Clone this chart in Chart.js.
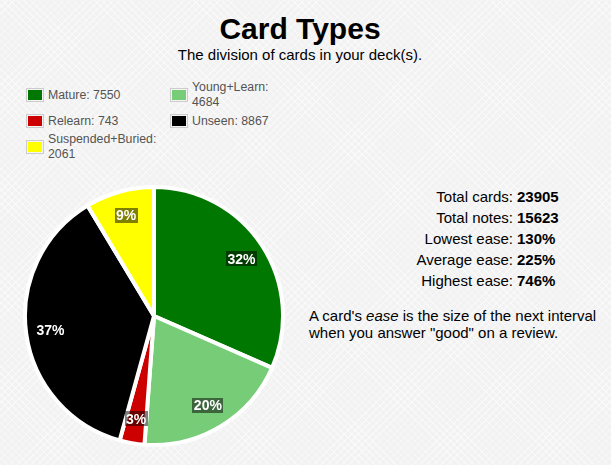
<!DOCTYPE html>
<html>
<head>
<meta charset="utf-8">
<script src="https://cdn.jsdelivr.net/npm/chart.js@4/dist/chart.umd.min.js"></script>
<style>
html,body{margin:0;padding:0;}
body{
  width:611px;height:465px;position:relative;overflow:hidden;
  font-family:"Liberation Sans",Arial,Helvetica,sans-serif;color:#000;
  background-color:#f2f2f2;
  background-image:
    repeating-linear-gradient(45deg, rgba(255,255,255,0.45) 0 1px, transparent 1px 5px),
    repeating-linear-gradient(-45deg, rgba(255,255,255,0.45) 0 1px, transparent 1px 5px);
}
#title{position:absolute;left:0;width:600px;top:12px;text-align:center;font-weight:bold;font-size:30px;line-height:34px;}
#subtitle{position:absolute;left:0;width:600px;top:46px;text-align:center;font-size:15px;line-height:18px;}
#legend{position:absolute;left:26px;top:80px;display:grid;
  grid-template-columns:18px 118px 18px 90px;grid-template-rows:30px 22px 30px;
  column-gap:4px;align-items:center;font-size:12.3px;line-height:15px;color:#545454;}
.lbox{border:1px solid #ccc;padding:1px;width:14px;height:10px;}
.lbox div{width:14px;height:10px;}
.txt{max-width:112px;}
#pieWrap{position:absolute;left:23px;top:185px;width:262px;height:262px;}
#stats{position:absolute;left:300px;top:186px;font-size:15px;line-height:21px;}
#stats .row{display:flex;}
#stats .lab{width:213px;text-align:right;}
#stats .val{padding-left:4px;font-weight:bold;}
#note{position:absolute;left:309px;top:307px;font-size:15px;line-height:17px;width:300px;}
</style>
</head>
<body>
<div id="title">Card Types</div>
<div id="subtitle">The division of cards in your deck(s).</div>
<div id="legend"></div>
<div id="pieWrap"><canvas id="pie" width="262" height="262"></canvas></div>
<div id="stats"></div>
<div id="note">A card's <i>ease</i> is the size of the next interval<br>when you answer "good" on a review.</div>
<script>
const categories = ["Mature", "Young+Learn", "Relearn", "Unseen", "Suspended+Buried"];
const cardCounts = [7550, 4684, 743, 8867, 2061];
const sliceColors = ["#007700", "#77cc77", "#cc0000", "#000000", "#ffff00"];
const statLabels = ["Total cards:", "Total notes:", "Lowest ease:", "Average ease:", "Highest ease:"];
const statValues = ["23905", "15623", "130%", "225%", "746%"];

// legend (HTML, built from the data)
const legend = document.getElementById('legend');
categories.forEach((c, i) => {
  const box = document.createElement('div');
  box.className = 'lbox';
  const inner = document.createElement('div');
  inner.style.background = sliceColors[i];
  box.appendChild(inner);
  const txt = document.createElement('div');
  txt.className = 'txt';
  txt.textContent = c + ': ' + cardCounts[i];
  legend.appendChild(box);
  legend.appendChild(txt);
});

// stats table
const stats = document.getElementById('stats');
statLabels.forEach((l, i) => {
  const row = document.createElement('div'); row.className = 'row';
  const a = document.createElement('span'); a.className = 'lab'; a.textContent = l;
  const b = document.createElement('span'); b.className = 'val'; b.textContent = statValues[i];
  row.appendChild(a); row.appendChild(b); stats.appendChild(row);
});

const pieLabels = {
  id: 'pieLabels',
  afterDatasetsDraw(chart) {
    const ctx = chart.ctx;
    const meta = chart.getDatasetMeta(0);
    const data = chart.data.datasets[0].data;
    const total = data.reduce((a, b) => a + b, 0);
    ctx.save();
    ctx.font = 'bold 14px "Liberation Sans", Arial, sans-serif';
    ctx.textAlign = 'center';
    ctx.textBaseline = 'middle';
    meta.data.forEach((arc, i) => {
      const p = arc.getProps(['x', 'y', 'startAngle', 'endAngle', 'outerRadius'], true);
      const mid = (p.startAngle + p.endAngle) / 2;
      const r = p.outerRadius * 0.81;
      const lx = p.x + Math.cos(mid) * r, ly = p.y + Math.sin(mid) * r;
      const text = Math.round(data[i] / total * 100) + '%';
      const w = Math.ceil(ctx.measureText(text).width) + 2, h = 15;
      ctx.fillStyle = 'rgba(0,0,0,0.5)';
      ctx.fillRect(Math.round(lx - w / 2), Math.round(ly - h / 2), w, h);
      ctx.fillStyle = '#ffffff';
      ctx.fillText(text, lx, ly + 1);
    });
    ctx.restore();
  }
};

new Chart(document.getElementById('pie'), {
  type: 'pie',
  data: {
    labels: categories,
    datasets: [{
      data: cardCounts,
      backgroundColor: sliceColors,
      borderColor: '#ffffff',
      borderWidth: 4
    }]
  },
  options: {
    responsive: false,
    animation: false,
    layout: { padding: 0 },
    plugins: { legend: { display: false }, tooltip: { enabled: false }, title: { display: false } }
  },
  plugins: [pieLabels]
});
</script>
</body>
</html>
